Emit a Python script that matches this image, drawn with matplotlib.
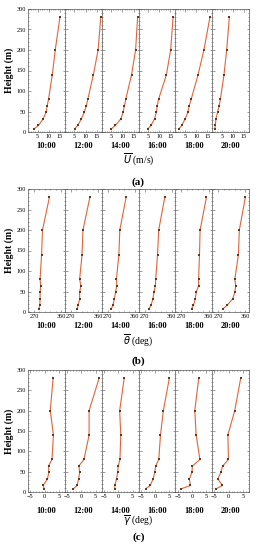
import matplotlib

matplotlib.use("Agg")
import matplotlib.pyplot as plt  # noqa: E402
from matplotlib.ticker import AutoMinorLocator  # noqa: E402

plt.rcParams["font.family"] = ["Liberation Serif", "DejaVu Serif"]

# sampling heights (m) and times of the profiles
heights = [8, 16, 32, 48, 64, 80, 140, 200, 280]
times = ["10:00", "12:00", "14:00", "16:00", "18:00", "20:00"]

# mean wind speed U (m/s)
u_mean = [
    [3.5, 5.4, 7.5, 8.8, 9.3, 9.9, 11.6, 12.9, 15.0],
    [5.1, 6.5, 8.1, 9.4, 10.3, 11.0, 13.5, 15.6, 16.8],
    [5.1, 6.8, 9.3, 10.3, 10.9, 11.5, 14.1, 15.9, 16.8],
    [5.0, 6.3, 7.9, 8.7, 9.1, 9.7, 13.2, 15.1, 16.2],
    [2.4, 3.6, 5.1, 6.3, 6.9, 7.8, 10.9, 13.5, 16.2],
    [1.9, 2.1, 2.4, 3.1, 3.8, 4.4, 6.0, 7.2, 8.4],
]

# mean wind direction theta (deg)
theta_mean = [
    [286, 289, 290, 290, 292, 290, 295, 298, 321],
    [291, 294, 299, 299, 303, 299, 307, 310, 333],
    [282, 287, 292, 296, 300, 299, 307, 310, 331],
    [285, 291, 298, 301, 306, 307, 313, 317, 337],
    [304, 310, 316, 319, 327, 327, 330, 332, 353],
    [286, 299, 318, 325, 328, 325, 337, 340, 360],
]

# mean wind inclination gamma (deg)
gamma_mean = [
    [-0.1, -0.5, 1.0, 1.5, 1.4, 2.6, 3.1, 2.0, 3.0],
    [-2.8, -1.5, -1.0, -0.6, -0.9, 0.9, 2.7, 2.7, 6.2],
    [-1.2, -1.2, -0.6, -0.2, 0.0, 0.6, 0.9, 0.5, 2.1],
    [-3.3, -1.7, -0.7, -0.1, 0.2, 1.3, 1.9, 2.9, 5.0],
    [-3.7, -0.5, -0.9, 0.0, 0.2, 2.8, 1.5, 1.0, 2.4],
    [-4.4, -2.2, -3.8, -2.8, -2.1, -0.1, -0.3, 2.1, 4.2],
]

W, H = 266, 550
LEFT, RIGHT = 28, 249
LINE = "#e2643a"
MARK = "#5e3a22"


def draw_row(fig, top, bottom, series, xlim, xticks, xlabel, tag, offs):
    # offs: pixel offsets below the axes for time labels, x label and panel tag
    width = (RIGHT - LEFT) / len(series)
    for i, vals in enumerate(series):
        x0 = LEFT + i * width
        ax = fig.add_axes([x0 / W, 1 - bottom / H, width / W, (bottom - top) / H])
        ax.plot(vals, heights, "-", color=LINE, linewidth=0.8)
        ax.plot(vals, heights, "s", color=MARK, markersize=1.7, markeredgewidth=0)
        ax.set_xlim(*xlim)
        ax.set_ylim(0, 300)
        ax.set_xticks(xticks)
        ax.set_yticks(range(0, 301, 50))
        ax.xaxis.set_minor_locator(AutoMinorLocator(5))
        ax.yaxis.set_minor_locator(AutoMinorLocator(5))
        ax.tick_params(which="both", direction="in", top=True, right=True,
                       labelsize=4.5, pad=1.5, width=0.4, color="#555555")
        ax.tick_params(which="major", length=1.8)
        ax.tick_params(which="minor", length=1.0)
        for s in ax.spines.values():
            s.set_linewidth(0.5)
            s.set_color("#555555")
        if i == 0:
            ax.set_ylabel("Height (m)", fontsize=7, fontweight="bold", labelpad=2)
        else:
            ax.set_yticklabels([])
        if i == len(series) - 1:
            ax.tick_params(labelright=True)
        fig.text((x0 + width / 2) / W, 1 - (bottom + offs[0]) / H, times[i],
                 ha="center", va="center", fontsize=6, fontweight="bold")
    mid = (LEFT + RIGHT) / 2 / W
    fig.text(mid, 1 - (bottom + offs[1]) / H, xlabel, ha="center", va="center", fontsize=7)
    fig.text(mid, 1 - (bottom + offs[2]) / H, tag, ha="center", va="center", fontsize=8, fontweight="bold")


fig = plt.figure(figsize=(W / 100, H / 100), dpi=100)
draw_row(fig, 9, 132, u_mean, (0.7, 17.2), [5, 10, 15], r"$\overline{U}$ (m/s)", "(a)", (14, 27, 50))
draw_row(fig, 189, 312, theta_mean, (250, 372), [270, 360], r"$\overline{\theta}$ (deg)", "(b)", (14, 28, 49))
draw_row(fig, 370, 492, gamma_mean, (-5.8, 7.1), [-5, 0, 5], r"$\overline{\gamma}$ (deg)", "(c)", (19, 28, 45))
fig.savefig("out.png", dpi=100)
